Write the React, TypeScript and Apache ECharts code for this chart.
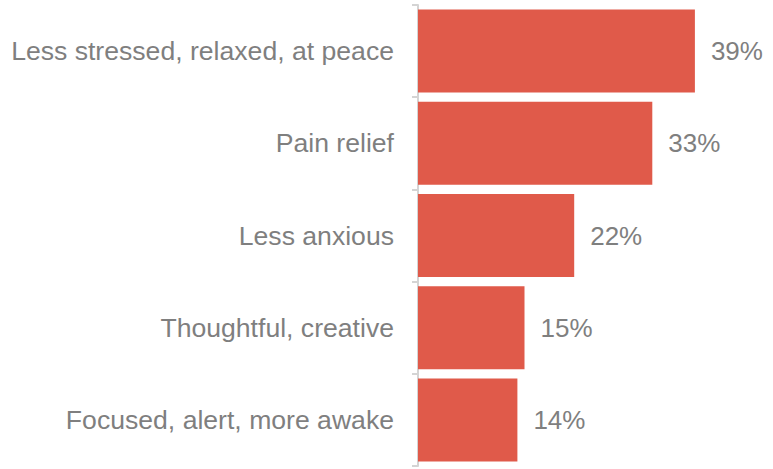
import React, { useEffect, useRef } from "react";
import * as echarts from "echarts";

const categories = [
  "Less stressed, relaxed, at peace",
  "Pain relief",
  "Less anxious",
  "Thoughtful, creative",
  "Focused, alert, more awake",
];
const values = [39, 33, 22, 15, 14];

export default function App() {
  const ref = useRef<HTMLDivElement>(null);
  useEffect(() => {
    if (!ref.current) return;
    const chart = echarts.init(ref.current, null, { renderer: "svg" });
    chart.setOption({
      animation: false,
      textStyle: { fontFamily: "Liberation Sans, Arial, sans-serif" },
      grid: { left: 418, right: 0, top: 5, bottom: 3 },
      xAxis: {
        type: "value",
        min: 0,
        max: 50,
        show: false,
      },
      yAxis: {
        type: "category",
        data: categories,
        inverse: true,
        offset: 2,
        axisLine: { show: true, lineStyle: { color: "#d4d4d4", width: 2 } },
        axisTick: { show: true, length: 6, lineStyle: { color: "#d4d4d4", width: 2 } },
        axisLabel: {
          margin: 22,
          color: "#7f7f7f",
          fontSize: 26.6,
          fontFamily: "Liberation Sans, Arial, sans-serif",
        },
        splitLine: { show: false },
      },
      series: [
        {
          type: "bar",
          data: values,
          barCategoryGap: "10%",
          itemStyle: { color: "#E05A4A" },
          label: {
            show: true,
            position: "right",
            distance: 16,
            formatter: "{c}%",
            color: "#7f7f7f",
            fontSize: 26,
            fontFamily: "Liberation Sans, Arial, sans-serif",
          },
        },
      ],
    });
    return () => chart.dispose();
  }, []);
  return (
    <div
      ref={ref}
      style={{ position: "fixed", left: 0, top: 0, width: 773, height: 469, background: "#fff" }}
    />
  );
}
